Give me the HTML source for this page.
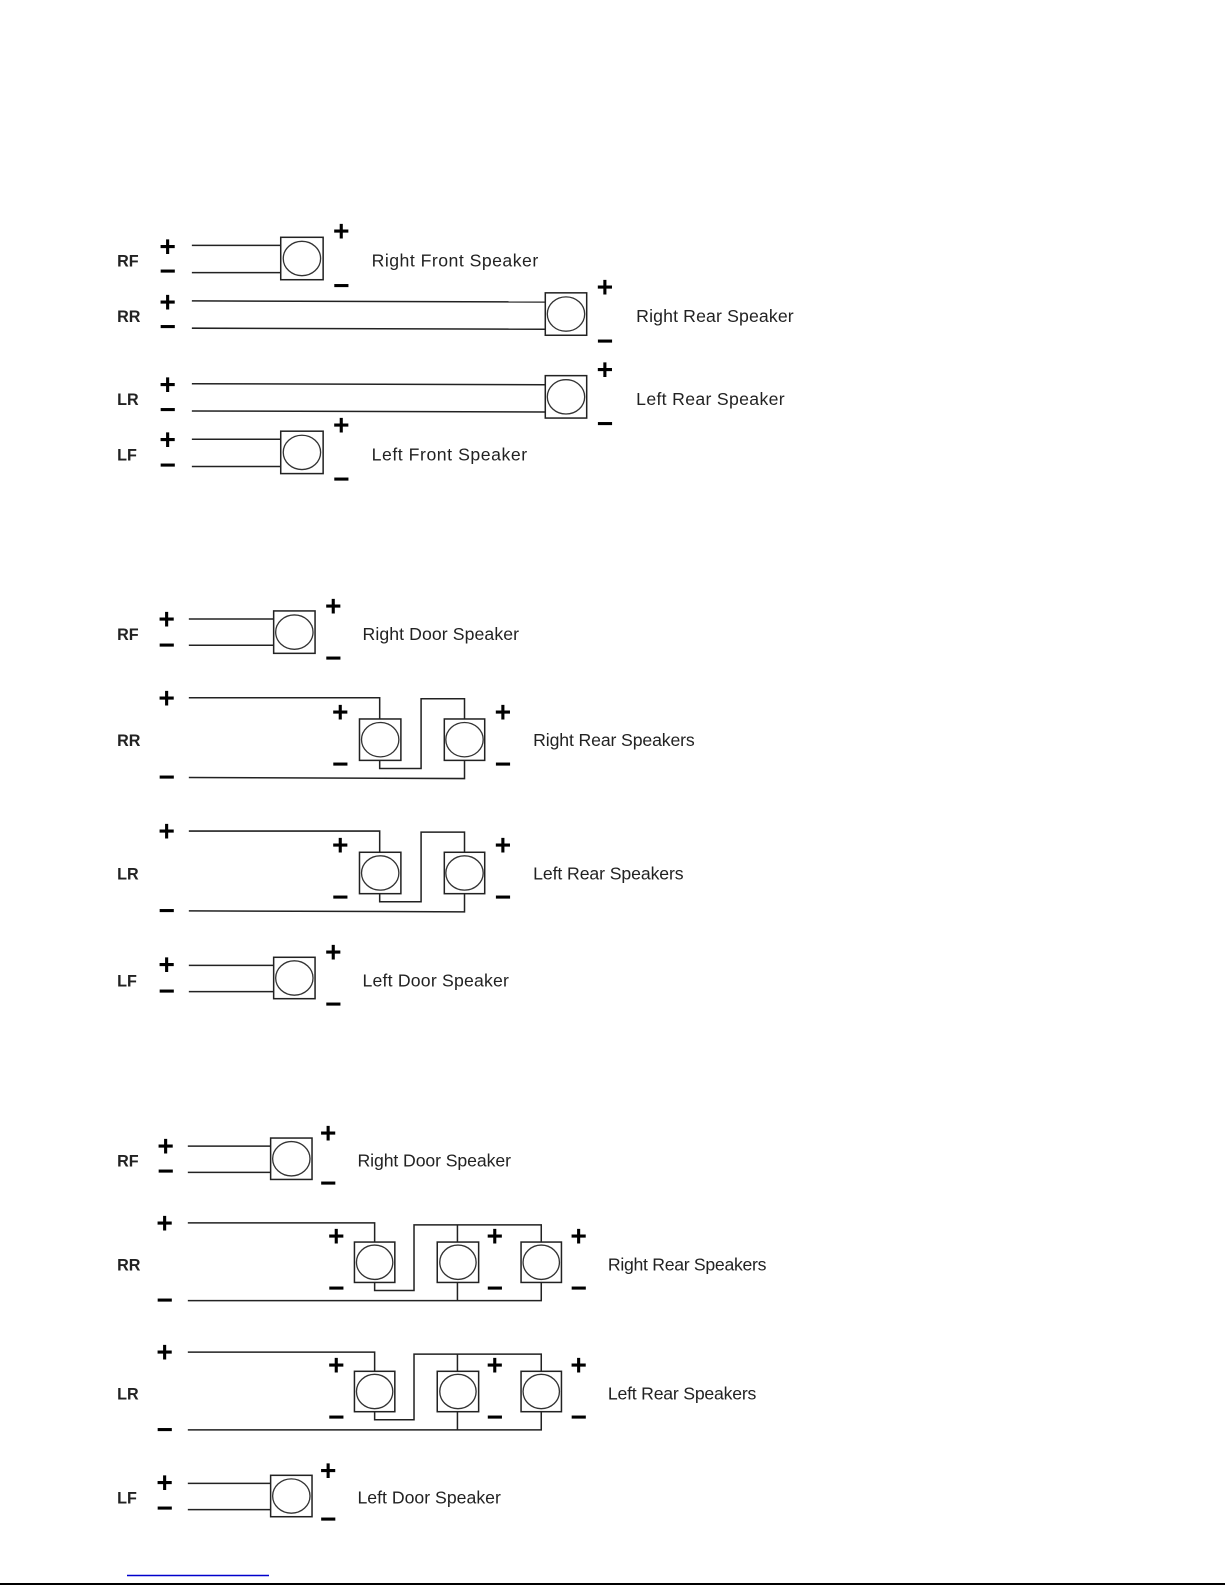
<!DOCTYPE html>
<html><head><meta charset="utf-8"><style>
html,body{margin:0;padding:0;background:#fff;}
svg{display:block;}
.lab{font-family:"Liberation Sans",sans-serif;font-weight:bold;font-size:16px;fill:#222;}
.pm{font-family:"Liberation Sans",sans-serif;font-weight:bold;font-size:28px;fill:#000;text-anchor:middle;dominant-baseline:central;}
.t{font-family:"Liberation Sans",sans-serif;font-size:17.5px;fill:#222;dominant-baseline:central;}
line,polyline{stroke:#222;stroke-width:1.5;fill:none;}
rect{stroke:#222;stroke-width:1.5;fill:#fff;}
ellipse{stroke:#333;stroke-width:1.3;fill:#fff;}
</style></head><body>
<svg width="1225" height="1585" viewBox="0 0 1225 1585" xmlns="http://www.w3.org/2000/svg">
<g transform="scale(1.0098)">
<!-- Diagram 1 -->
<text class="lab" x="116" y="264">RF</text>
<text class="pm" x="166" y="244">+</text><text class="pm" x="166" y="268">−</text>
<line x1="190" y1="243" x2="278" y2="243"/><line x1="190" y1="270" x2="278" y2="270"/>
<rect x="278" y="235" width="42" height="42"/><ellipse cx="299" cy="256" rx="18.5" ry="17"/>
<text class="pm" x="338" y="229">+</text><text class="pm" x="338" y="282">−</text>
<text class="t" x="368" y="258" textLength="165">Right Front Speaker</text>

<text class="lab" x="116" y="319">RR</text>
<text class="pm" x="166" y="299">+</text><text class="pm" x="166" y="323">−</text>
<line x1="190" y1="298" x2="540" y2="299"/><line x1="190" y1="325" x2="540" y2="326"/>
<rect x="540" y="290" width="41" height="42"/><ellipse cx="560.5" cy="311" rx="18.5" ry="17"/>
<text class="pm" x="599" y="284">+</text><text class="pm" x="599" y="337">−</text>
<text class="t" x="630" y="313" textLength="156">Right Rear Speaker</text>

<text class="lab" x="116" y="401">LR</text>
<text class="pm" x="166" y="381">+</text><text class="pm" x="166" y="405">−</text>
<line x1="190" y1="380" x2="540" y2="381"/><line x1="190" y1="407" x2="540" y2="408"/>
<rect x="540" y="372" width="41" height="42"/><ellipse cx="560.5" cy="393" rx="18.5" ry="17"/>
<text class="pm" x="599" y="366">+</text><text class="pm" x="599" y="419">−</text>
<text class="t" x="630" y="395" textLength="147">Left Rear Speaker</text>

<text class="lab" x="116" y="456">LF</text>
<text class="pm" x="166" y="435">+</text><text class="pm" x="166" y="460">−</text>
<line x1="190" y1="435" x2="278" y2="435"/><line x1="190" y1="462" x2="278" y2="462"/>
<rect x="278" y="427" width="42" height="42"/><ellipse cx="299" cy="448" rx="18.5" ry="17"/>
<text class="pm" x="338" y="421">+</text><text class="pm" x="338" y="474">−</text>
<text class="t" x="368" y="450" textLength="154">Left Front Speaker</text>

<!-- Diagram 2 -->
<text class="lab" x="116" y="634">RF</text>
<text class="pm" x="165" y="613">+</text><text class="pm" x="165" y="638">−</text>
<line x1="187" y1="613" x2="271" y2="613"/><line x1="187" y1="639" x2="271" y2="639"/>
<rect x="271" y="605" width="41" height="42"/><ellipse cx="291.5" cy="626" rx="18.5" ry="17"/>
<text class="pm" x="330" y="600">+</text><text class="pm" x="330" y="651">−</text>
<text class="t" x="359" y="628" textLength="155">Right Door Speaker</text>

<text class="lab" x="116" y="739">RR</text>
<text class="pm" x="165" y="691">+</text><text class="pm" x="165" y="769">−</text>
<polyline points="187,691 376,691 376,712"/>
<polyline points="376,753 376,761 417,761 417,692 460,692 460,712"/>
<polyline points="187,770 460,771 460,753"/>
<rect x="356" y="712" width="41" height="41"/><ellipse cx="376.5" cy="732.5" rx="18.5" ry="17"/>
<rect x="440" y="712" width="40" height="41"/><ellipse cx="460" cy="732.5" rx="18.5" ry="17"/>
<text class="pm" x="337" y="705">+</text><text class="pm" x="337" y="756">−</text>
<text class="pm" x="498" y="705">+</text><text class="pm" x="498" y="756">−</text>
<text class="t" x="528" y="733" textLength="160">Right Rear Speakers</text>

<text class="lab" x="116" y="871">LR</text>
<text class="pm" x="165" y="823">+</text><text class="pm" x="165" y="901">−</text>
<polyline points="187,823 376,823 376,844"/>
<polyline points="376,885 376,893 417,893 417,824 460,824 460,844"/>
<polyline points="187,902 460,903 460,885"/>
<rect x="356" y="844" width="41" height="41"/><ellipse cx="376.5" cy="864.5" rx="18.5" ry="17"/>
<rect x="440" y="844" width="40" height="41"/><ellipse cx="460" cy="864.5" rx="18.5" ry="17"/>
<text class="pm" x="337" y="837">+</text><text class="pm" x="337" y="888">−</text>
<text class="pm" x="498" y="837">+</text><text class="pm" x="498" y="888">−</text>
<text class="t" x="528" y="865" textLength="149">Left Rear Speakers</text>

<text class="lab" x="116" y="977">LF</text>
<text class="pm" x="165" y="955">+</text><text class="pm" x="165" y="981">−</text>
<line x1="187" y1="956" x2="271" y2="956"/><line x1="187" y1="982" x2="271" y2="982"/>
<rect x="271" y="948" width="41" height="41"/><ellipse cx="291.5" cy="968.5" rx="18.5" ry="17"/>
<text class="pm" x="330" y="943">+</text><text class="pm" x="330" y="994">−</text>
<text class="t" x="359" y="971" textLength="145">Left Door Speaker</text>

<!-- Diagram 3 -->
<text class="lab" x="116" y="1155">RF</text>
<text class="pm" x="164" y="1135">+</text><text class="pm" x="164" y="1159">−</text>
<line x1="186" y1="1135" x2="268" y2="1135"/><line x1="186" y1="1161" x2="268" y2="1161"/>
<rect x="268" y="1127" width="41" height="41"/><ellipse cx="288.5" cy="1147.5" rx="18.5" ry="17"/>
<text class="pm" x="325" y="1122">+</text><text class="pm" x="325" y="1171">−</text>
<text class="t" x="354" y="1149" textLength="152">Right Door Speaker</text>

<text class="lab" x="116" y="1258">RR</text>
<text class="pm" x="163" y="1211">+</text><text class="pm" x="163" y="1287">−</text>
<polyline points="186,1211 371,1211 371,1230"/>
<polyline points="371,1270 371,1278 410,1278 410,1213 536,1213 536,1230"/>
<line x1="453" y1="1213" x2="453" y2="1230"/>
<polyline points="186,1288 536,1288 536,1270"/>
<line x1="453" y1="1270" x2="453" y2="1288"/>
<rect x="351" y="1230" width="40" height="40"/><ellipse cx="371" cy="1250" rx="18" ry="17"/>
<rect x="433" y="1230" width="41" height="40"/><ellipse cx="453.5" cy="1250" rx="18" ry="17"/>
<rect x="516" y="1230" width="40" height="40"/><ellipse cx="536" cy="1250" rx="18" ry="17"/>
<text class="pm" x="333" y="1224">+</text><text class="pm" x="333" y="1275">−</text>
<text class="pm" x="490" y="1224">+</text><text class="pm" x="490" y="1275">−</text>
<text class="pm" x="573" y="1224">+</text><text class="pm" x="573" y="1275">−</text>
<text class="t" x="602" y="1252" textLength="157">Right Rear Speakers</text>

<text class="lab" x="116" y="1386">LR</text>
<text class="pm" x="163" y="1339">+</text><text class="pm" x="163" y="1415">−</text>
<polyline points="186,1339 371,1339 371,1358"/>
<polyline points="371,1398 371,1406 410,1406 410,1341 536,1341 536,1358"/>
<line x1="453" y1="1341" x2="453" y2="1358"/>
<polyline points="186,1416 536,1416 536,1398"/>
<line x1="453" y1="1398" x2="453" y2="1416"/>
<rect x="351" y="1358" width="40" height="40"/><ellipse cx="371" cy="1378" rx="18" ry="17"/>
<rect x="433" y="1358" width="41" height="40"/><ellipse cx="453.5" cy="1378" rx="18" ry="17"/>
<rect x="516" y="1358" width="40" height="40"/><ellipse cx="536" cy="1378" rx="18" ry="17"/>
<text class="pm" x="333" y="1352">+</text><text class="pm" x="333" y="1403">−</text>
<text class="pm" x="490" y="1352">+</text><text class="pm" x="490" y="1403">−</text>
<text class="pm" x="573" y="1352">+</text><text class="pm" x="573" y="1403">−</text>
<text class="t" x="602" y="1380" textLength="147">Left Rear Speakers</text>

<text class="lab" x="116" y="1489">LF</text>
<text class="pm" x="163" y="1468">+</text><text class="pm" x="163" y="1493">−</text>
<line x1="186" y1="1469" x2="268" y2="1469"/><line x1="186" y1="1495" x2="268" y2="1495"/>
<rect x="268" y="1461" width="41" height="41"/><ellipse cx="288.5" cy="1481.5" rx="18.5" ry="17"/>
<text class="pm" x="325" y="1456">+</text><text class="pm" x="325" y="1504">−</text>
<text class="t" x="354" y="1483" textLength="142">Left Door Speaker</text>
</g>
<line x1="127" y1="1575.5" x2="269" y2="1575.5" style="stroke:#0000cc;stroke-width:1.5"/>
<line x1="0" y1="1584" x2="1225" y2="1584" style="stroke:#000;stroke-width:2"/>
</svg>
</body></html>
